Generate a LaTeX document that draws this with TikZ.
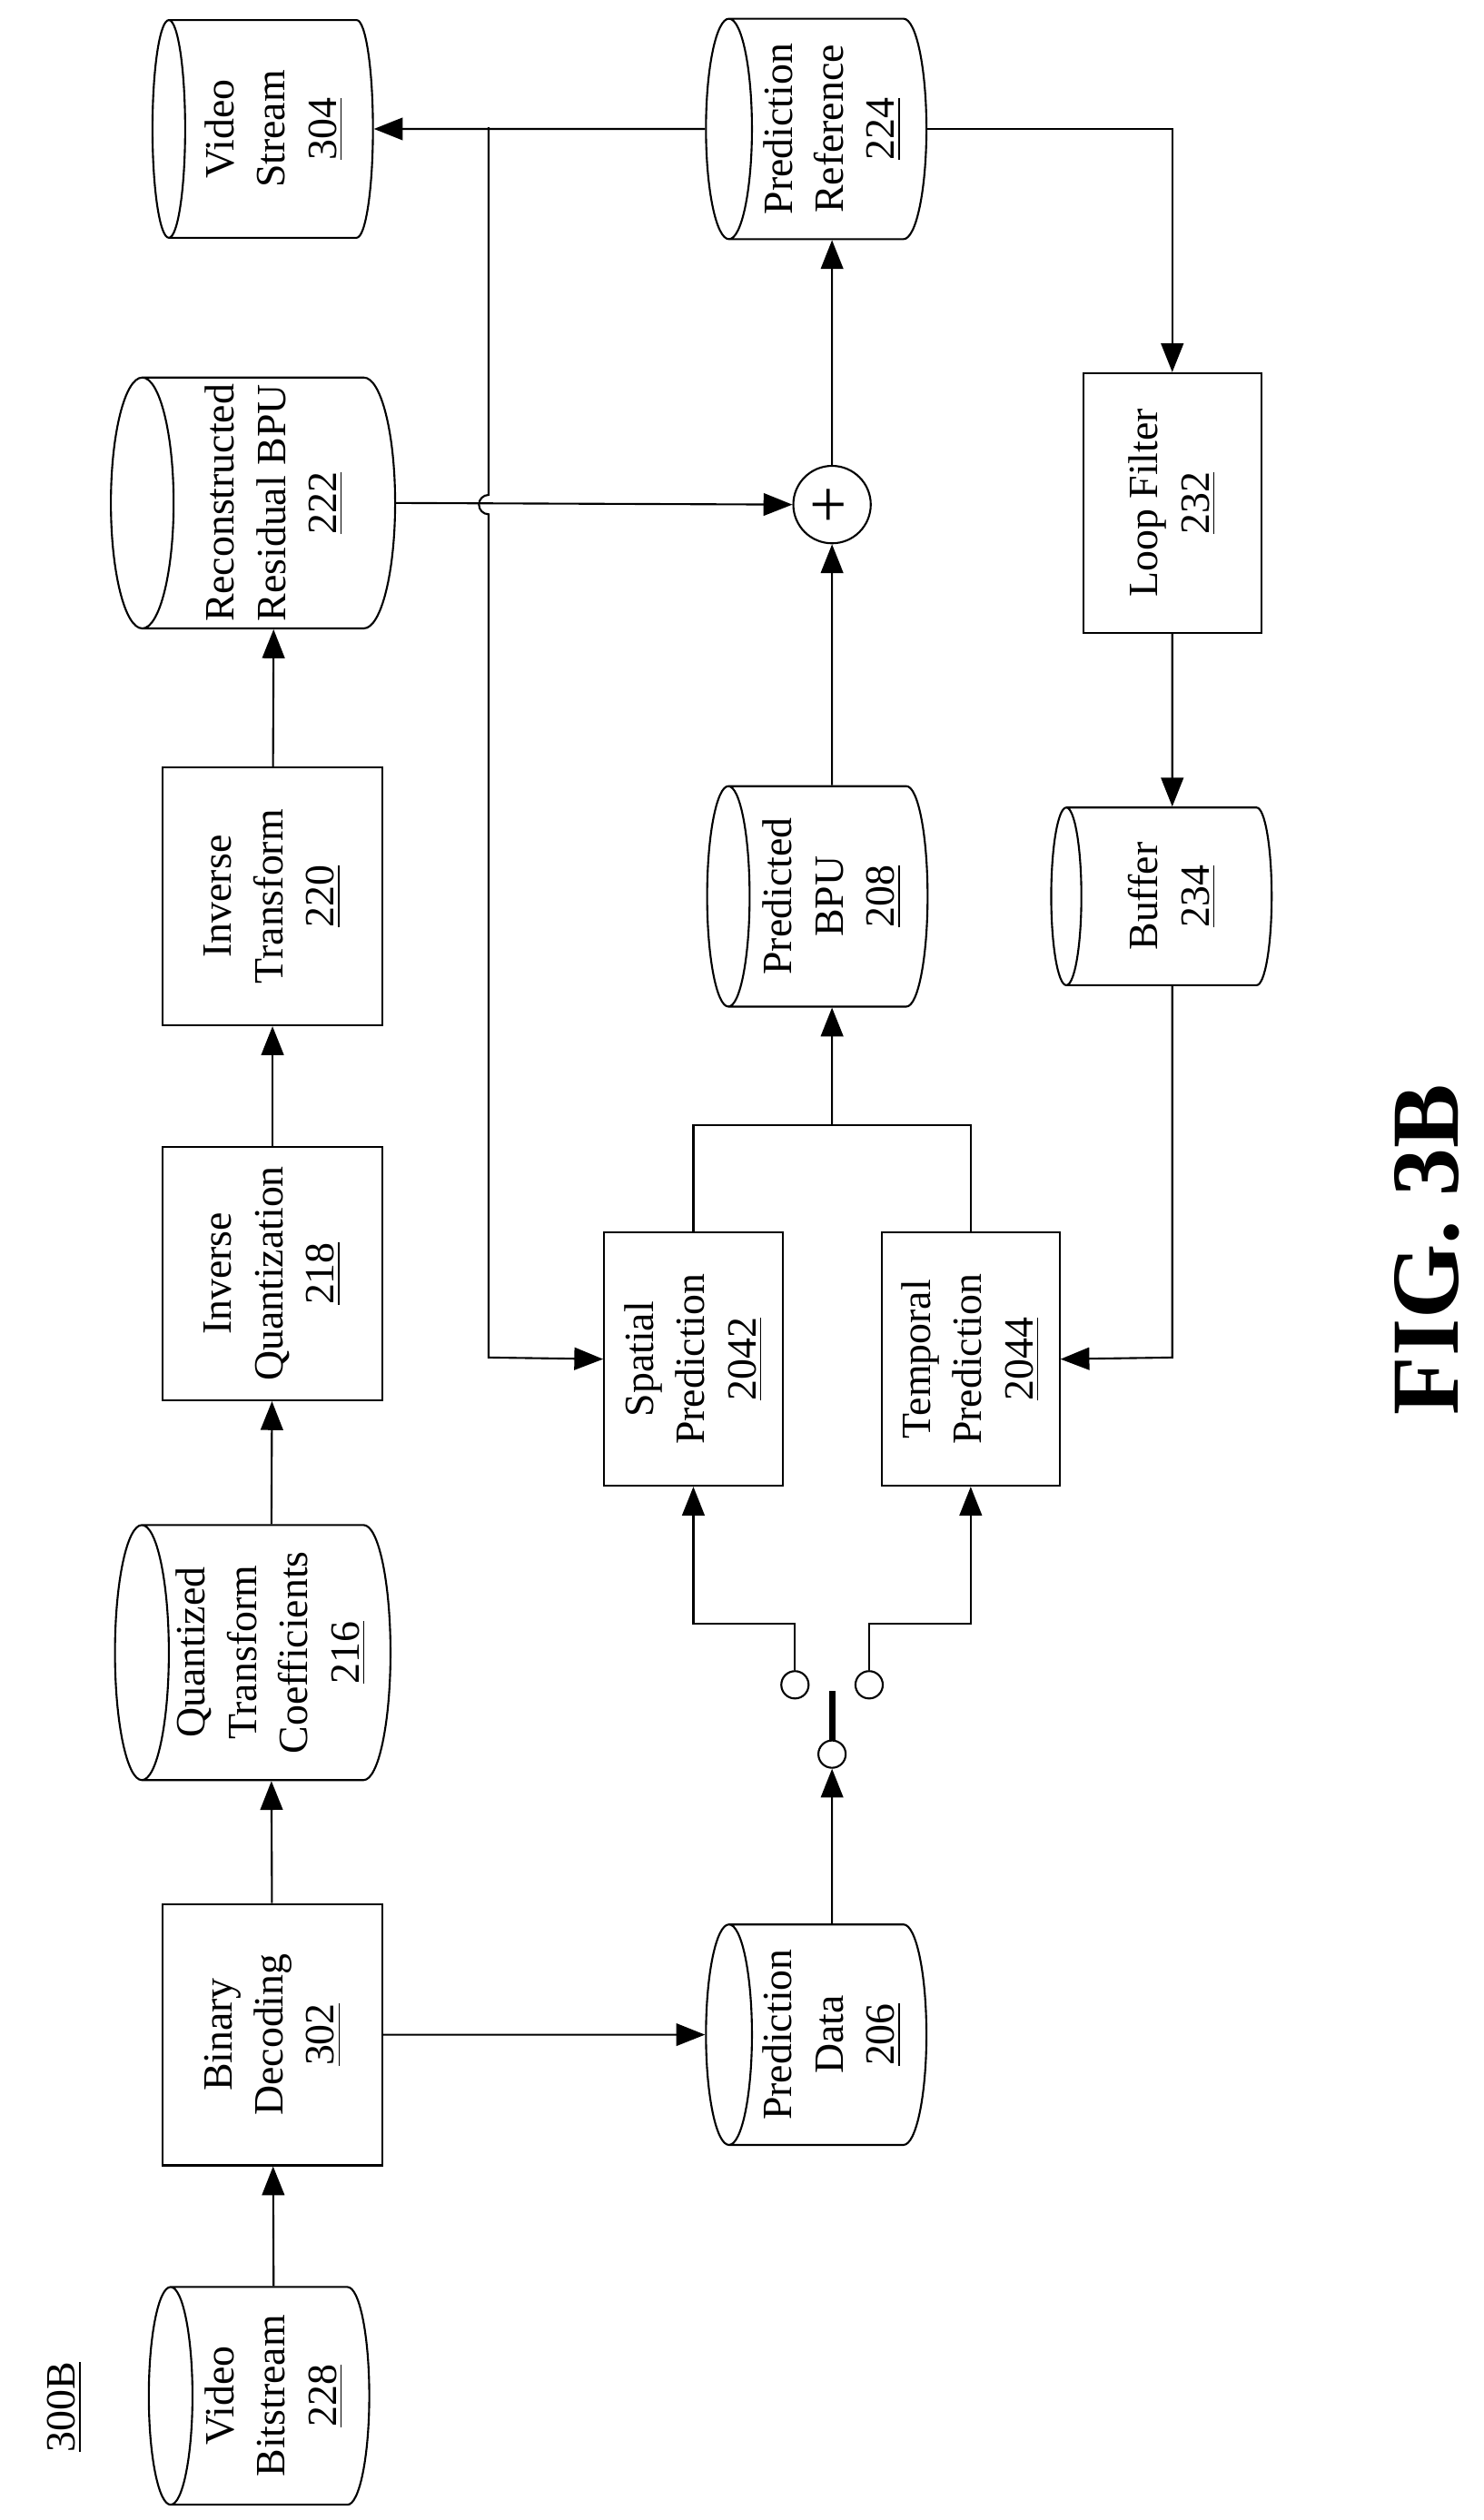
\documentclass[tikz,border=0pt]{standalone}
\usepackage{fontspec}
\setmainfont{Liberation Serif}
\usetikzlibrary{arrows.meta, shapes.geometric, positioning}

\begin{document}
\begin{tikzpicture}[
    >={Triangle[length=9pt, width=7pt]},
    every path/.style={line width=0.6pt},
    block/.style={rectangle, draw, align=center, font=\fontsize{13}{16}\selectfont,
        inner sep=2pt},
    store/.style={cylinder, shape border rotate=90, draw, align=center,
        font=\fontsize{13}{16}\selectfont, aspect=0.25, inner sep=2pt},
    port/.style={circle, draw, inner sep=0pt, minimum size=3mm}
]
    \useasboundingbox (0,0) rectangle (16.284,27.665);

\begin{scope}[rotate=90, transform shape, x=0.0177cm, y=0.0177cm]

    % Nodes ------------------------------------------------------

    \node[store, minimum width=2.39cm, minimum height=2.42cm] (vbs) at (77,-170) {Video\\Bitstream\\\underline{228}};
    \node[block, minimum width=2.87cm, minimum height=2.41cm] (bd) at (301,-169) {Binary\\Decoding\\\underline{302}};
    \node[store, minimum width=2.8cm, minimum height=2.85cm] (qtc) at (538,-168) {Quantized\\Transform\\Coefficients\\\underline{216}};
    \node[block, minimum width=2.78cm, minimum height=2.41cm] (iq) at (773,-169) {Inverse\\Quantization\\\underline{218}};
    \node[block, minimum width=2.83cm, minimum height=2.41cm] (it) at (1007,-169) {Inverse\\Transform\\\underline{220}};
    \node[store, minimum width=2.39cm, minimum height=3.12cm] (rr) at (1251,-170) {Reconstructed\\Residual BPU\\\underline{222}};
    \node[store, minimum width=2.39cm, minimum height=2.42cm] (vs) at (1483,-170) {Video\\Stream\\\underline{304}};

    \node[store, minimum width=2.42cm, minimum height=2.42cm] (pd) at (301,-516) {Prediction\\Data\\\underline{206}};
    \node[block, minimum width=2.78cm, minimum height=1.96cm] (sp) at (720,-430) {Spatial\\Prediction\\\underline{2042}};
    \node[block, minimum width=2.78cm, minimum height=1.95cm] (tp) at (720,-602) {Temporal\\Prediction\\\underline{2044}};
    \node[store, minimum width=2.42cm, minimum height=2.42cm] (pbpu) at (1007,-516) {Predicted\\BPU\\\underline{208}};
    \node[circle, draw, minimum size=0.85cm, inner sep=0pt, font=\huge] (add) at (1250,-516) {+};
    \node[store, minimum width=2.42cm, minimum height=2.42cm] (pr) at (1483,-516) {Prediction\\Reference\\\underline{224}};
    \node[block, minimum width=2.85cm, minimum height=1.95cm] (lf) at (1251,-727) {Loop Filter\\\underline{232}};
    \node[store, minimum width=1.95cm, minimum height=2.42cm] (buf) at (1007,-727) {Buffer\\\underline{234}};

    % switch
    \node[port] (piv) at (475,-516) {};
    \node[port] (swa) at (518,-493) {};
    \node[port] (swb) at (518,-539) {};
    \coordinate (bar) at (514,-516);

    % labels
    \node[font=\fontsize{13}{16}\selectfont] (fig) at (70,-40) {\underline{300B}};
    \node[font=\bfseries\fontsize{30}{36}\selectfont] (title) at (788,-885) {FIG. 3B};

    % Arrows ---------------------------------------------------

    \draw [->] (vbs) -- (bd);
    \draw [->] (bd) -- (qtc);
    \draw [->] (qtc) -- (iq);
    \draw [->] (iq) -- (it);
    \draw [->] (it) -- (rr);
    \draw [->] (bd) -- (pd);
    \draw [->] (pd) -- (piv);
    \draw [line width=2pt] (piv.east) -- (bar);
    \draw [->] (swa.east) -- (556,-493) -- (556,-430) -- (sp.west);
    \draw [->] (swb.east) -- (556,-539) -- (556,-602) -- (tp.west);
    \draw (sp.east) -- (865,-430) -- (865,-602) -- (tp.east);
    \draw [->] (865,-516) -- (pbpu.west);
    \draw [->] (pbpu) -- (add);
    \draw [->] (rr.south) -- (add.north);
    \draw [->] (add) -- (pr);
    \draw [->] (pr.north) -- (vs.south);
    \draw [->] (1484,-303) -- (1256,-303) arc (0:180:6) -- (721,-303) -- (sp.north);
    \draw [->] (pr.south) -- (1483,-727) -- (lf.east);
    \draw [->] (lf) -- (buf);
    \draw [->] (buf.west) -- (721,-727) -- (tp.south);

\end{scope}
\end{tikzpicture}
\end{document}
